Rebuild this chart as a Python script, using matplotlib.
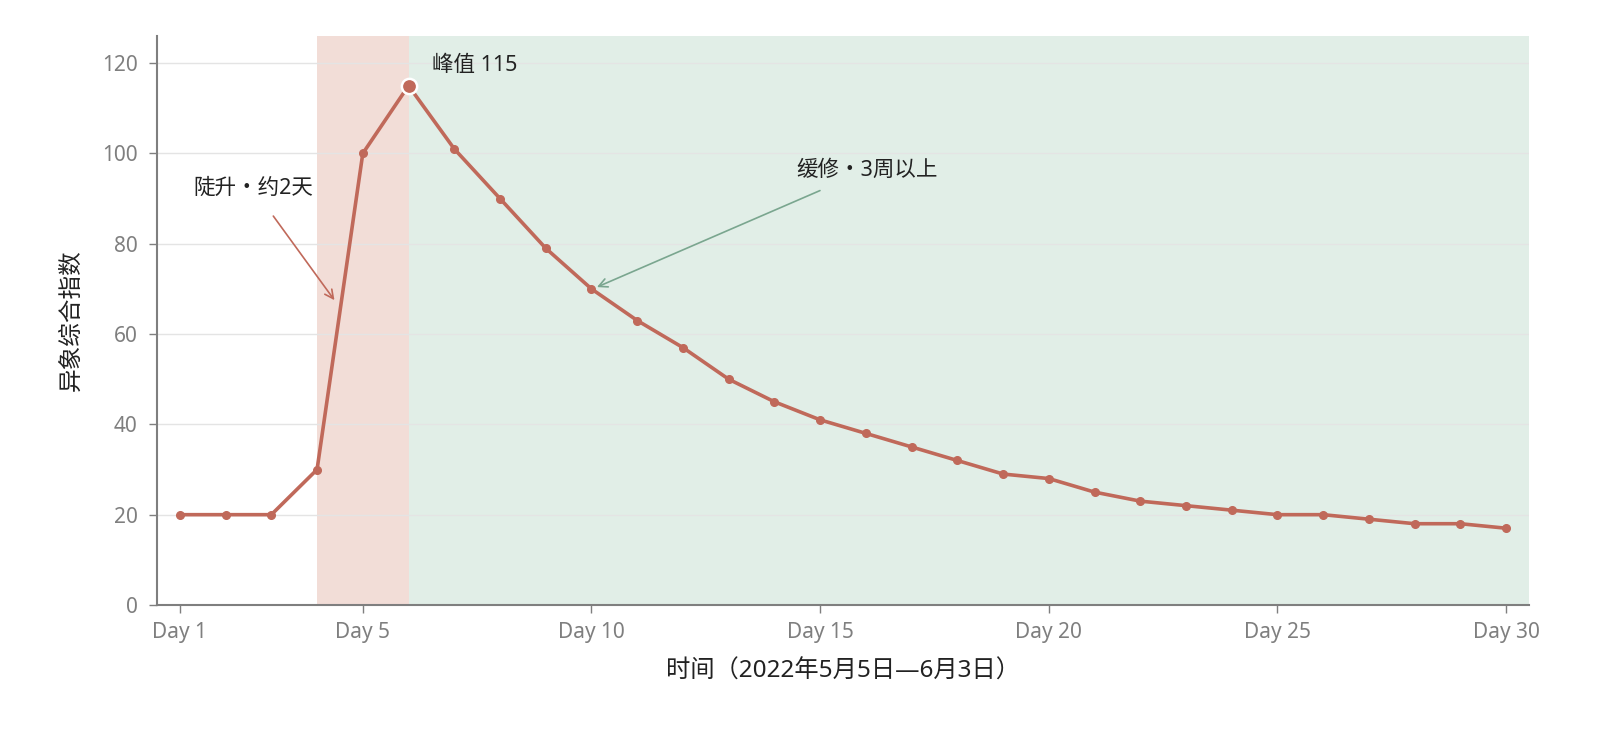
import numpy as np
import matplotlib.pyplot as plt

plt.rcParams['font.family'] = ['Noto Sans', 'Noto Sans CJK SC', 'DejaVu Sans']

# data
days = list(range(1, 31))
values = [20, 20, 20, 30, 100, 115, 101, 90, 79, 70, 63, 57, 50, 45, 41,
          38, 35, 32, 29, 28, 25, 23, 22, 21, 20, 20, 19, 18, 18, 17]
tick_days = [1, 5, 10, 15, 20, 25, 30]
tick_labels = [f'Day {d}' for d in tick_days]
rise_span = (4, 6)
recover_span = (6, 30.5)
peak_day = 6
peak_value = 115

line_color = '#c0695a'
gray = '#7f7f7f'
text_color = '#222222'

fig = plt.figure(figsize=(16, 7.44), dpi=100)
ax = fig.add_axes([157 / 1600, 1 - 605 / 744, (1529 - 157) / 1600, (605 - 36) / 744])

ax.axvspan(*rise_span, color='#f2ddd7', zorder=0, lw=0)
ax.axvspan(*recover_span, color='#e1eee7', zorder=0, lw=0)

ax.plot(days, values, color=line_color, lw=2.6, marker='o', ms=5.5, zorder=3)
ax.plot([peak_day], [peak_value], 'o', color=line_color, ms=11,
        mec='white', mew=1.8, zorder=4)

ax.text(6.52, 119.4, f'峰值 {peak_value}', fontsize=15.5, color=text_color,
        ha='left', va='center')

ax.annotate('陡升・约2天', xy=(4.38, 67.5), xytext=(2.6, 92.3),
            fontsize=15.5, color=text_color, ha='center', va='center',
            arrowprops=dict(arrowstyle='->', color=line_color, lw=1.2,
                            shrinkA=13, shrinkB=0))
ax.annotate('缓修・3周以上', xy=(10.12, 70.4), xytext=(16.03, 96.3),
            fontsize=15.5, color=text_color, ha='center', va='center',
            arrowprops=dict(arrowstyle='->', color='#7aa68f', lw=1.2,
                            shrinkA=13, shrinkB=0))

ax.set_xlim(0.5, 30.5)
ax.set_ylim(0, 126)
ax.set_xticks(tick_days)
ax.set_xticklabels(tick_labels)
ax.set_yticks(np.arange(0, 121, 20))
ax.grid(axis='y', color='#e4e4e4', lw=1)
ax.set_axisbelow(True)

for s in ['top', 'right']:
    ax.spines[s].set_visible(False)
for s in ['left', 'bottom']:
    ax.spines[s].set_color(gray)
    ax.spines[s].set_linewidth(1.5)
ax.tick_params(colors=gray, labelsize=15, length=6, width=1)
ax.tick_params(axis='x', pad=6)
ax.tick_params(axis='y', pad=8)

ax.set_xlabel('时间（2022年5月5日—6月3日）', fontsize=17.5, color=text_color, labelpad=12)
ax.set_ylabel('异象综合指数', fontsize=17, color=text_color, labelpad=13)

fig.savefig('out.png', dpi=100)
